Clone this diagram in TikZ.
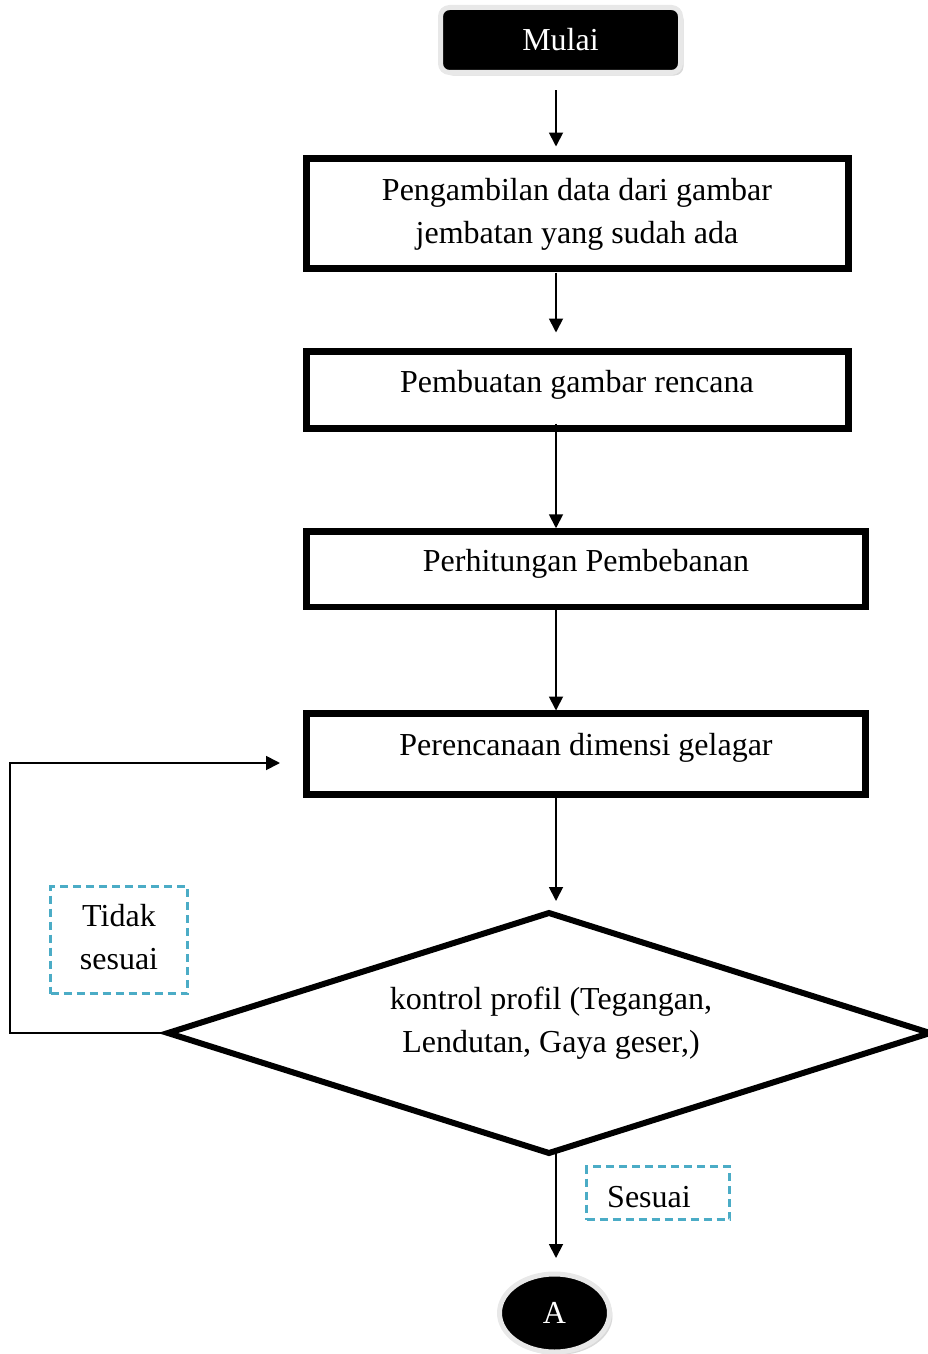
\documentclass[tikz,border=0pt]{standalone}
\usepackage{fontspec}
\setmainfont{Liberation Serif}
\usetikzlibrary{arrows.meta,shapes.geometric,shadows}
\definecolor{dashteal}{HTML}{4BACC6}
\definecolor{rimgray}{HTML}{E8E8E8}
\begin{document}
\begin{tikzpicture}[x=1pt,y=-1pt,font=\fontsize{32}{43}\selectfont,
  stepbox/.style={draw,rectangle,line width=6.5pt,inner sep=0pt,outer sep=0pt},
  flow/.style={-{Triangle[length=14pt,width=14pt]},line width=1.8pt},
  tag/.style={draw=dashteal,dash pattern=on 8pt off 5pt,line width=2.5pt,inner sep=0pt},
  term/.style={fill=black,text=white,draw=rimgray,line width=5pt,inner sep=0pt,
    drop shadow={shadow xshift=3pt,shadow yshift=-3pt,fill=gray!50,opacity=0.6}},
  decision/.style={draw,diamond,line width=6pt,inner sep=0pt,outer sep=0pt}]
\useasboundingbox (0,0) rectangle (928,1354);

% terminals
\node[term,rounded corners=9pt,minimum width=240pt,minimum height=65pt] (mulai) at (560.5,40) {Mulai};
\node[term,ellipse,minimum width=110pt,minimum height=78pt] (a) at (554.5,1313) {A};

% process steps
\node[stepbox,minimum width=542pt,minimum height=110pt] (s1) at (577.6,213.5) {};
\node[align=center] (t1) at (577,214) {Pengambilan data dari gambar\\jembatan yang sudah ada};
\node[stepbox,minimum width=542pt,minimum height=77pt] (s2) at (577.6,390) {};
\node (t2) at (577,385) {Pembuatan gambar rencana};
\node[stepbox,minimum width=559pt,minimum height=75.5pt] (s3) at (586,569) {};
\node (t3) at (586,564) {Perhitungan Pembebanan};
\node[stepbox,minimum width=559pt,minimum height=81pt] (s4) at (586,754) {};
\node (t4) at (586,748) {Perencanaan dimensi gelagar};

% check
\node[decision,minimum width=762pt,minimum height=240pt] (dia) at (549,1033) {};
\node[align=center] (dt) at (551,1023) {kontrol profil (Tegangan,\\Lendutan, Gaya geser,)};

% branch labels
\node[tag,minimum width=137pt,minimum height=107pt] (nobox) at (119,940) {};
\node[align=center] (no) at (119,937) {Tidak\\sesuai};
\node[tag,minimum width=143pt,minimum height=53pt] (yesbox) at (658,1193) {};
\node (yes) at (649,1197) {Sesuai};

% connectors
\coordinate (col) at (556,0);
\coordinate (bend) at (10,0);
\coordinate (fb) at (280,763);
\draw[flow] ([yshift=-15pt]mulai.south -| col) -- ([yshift=12pt]s1.north -| col);
\draw[flow] ([yshift=-4pt]s1.south -| col) -- ([yshift=19pt]s2.north -| col);
\draw[flow] ([yshift=5pt]s2.south -| col) -- ([yshift=3pt]s3.north -| col);
\draw[flow] (s3.south -| col) -- ([yshift=3pt]s4.north -| col);
\draw[flow] (s4.south -| col) -- ([yshift=12pt]dia.north -| col);
\draw[flow] (dia.south -| col) -- ([yshift=13.5pt]a.north -| col);
\draw[flow] (dia.west) -- (dia.west -| bend) |- (fb);
\end{tikzpicture}
\end{document}
